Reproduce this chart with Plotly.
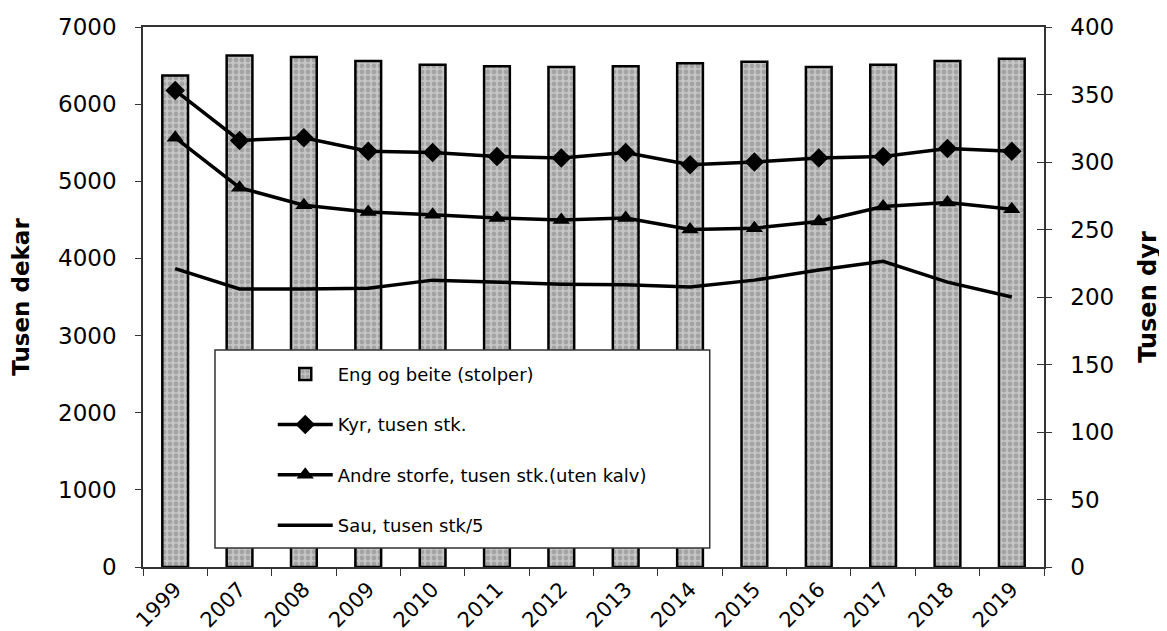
import plotly.graph_objects as go

years = ["1999", "2007", "2008", "2009", "2010", "2011", "2012", "2013",
         "2014", "2015", "2016", "2017", "2018", "2019"]
eng_beite = [6370, 6630, 6610, 6560, 6510, 6490, 6480, 6490, 6530, 6550, 6480, 6510, 6560, 6590]
kyr = [353, 316, 318, 308, 307, 304, 303, 307, 298, 300, 303, 304, 310, 308]
andre_storfe = [318, 281, 268, 263, 261, 258.5, 257, 258.5, 250, 251, 256, 267, 270, 265]
sau = [221, 206, 206, 206.5, 212.5, 211, 209.5, 209, 207.5, 212.5, 220, 226.5, 211, 200]

font_family = "DejaVu Sans, Liberation Sans, Arial, sans-serif"
axis_col = "#333333"

fig = go.Figure()
fig.add_trace(go.Bar(
    x=years, y=eng_beite, name="Eng og beite (stolper)", width=0.40,
    marker=dict(color="#b4b4b4", line=dict(color="black", width=2.5),
                pattern=dict(shape=".", fgcolor="#808080", bgcolor="#c6c6c6", size=6, solidity=0.5)),
    legendgroup="a", yaxis="y"))
fig.add_trace(go.Scatter(
    x=years, y=kyr, name="Kyr, tusen stk.", mode="lines+markers",
    line=dict(color="black", width=3.5), marker=dict(symbol="diamond", size=15, color="black"),
    legendgroup="b", yaxis="y2"))
fig.add_trace(go.Scatter(
    x=years, y=andre_storfe, name="Andre storfe, tusen stk.(uten kalv)", mode="lines+markers",
    line=dict(color="black", width=3.5), marker=dict(symbol="triangle-up", size=15, color="black"),
    legendgroup="c", yaxis="y2"))
fig.add_trace(go.Scatter(
    x=years, y=sau, name="Sau, tusen stk/5", mode="lines",
    line=dict(color="black", width=3.5),
    legendgroup="d", yaxis="y2"))
# invisible helper trace so the right axis can also carry inward ticks (cross ticks)
fig.add_trace(go.Scatter(
    x=years, y=sau, mode="lines", line=dict(width=0), opacity=0,
    showlegend=False, hoverinfo="skip", yaxis="y3"))

fig.add_shape(type="rect", xref="paper", yref="paper", x0=0.0799, x1=0.629, y0=0.035, y1=0.402,
              fillcolor="white", line=dict(color="#333333", width=1.5), layer="above")

fig.update_layout(
    width=1167, height=631,
    margin=dict(l=135, r=131, t=19, b=72),
    paper_bgcolor="white", plot_bgcolor="white",
    font=dict(family=font_family, color="black", size=21),
    showlegend=True,
    legend=dict(x=0.144, y=0.391, xanchor="left", yanchor="top", bgcolor="rgba(0,0,0,0)",
                borderwidth=0, font=dict(size=18, family=font_family), tracegroupgap=24,
                traceorder="grouped", itemwidth=55),
    xaxis=dict(type="category", range=[-0.5, len(years) - 0.5], showline=True, linecolor=axis_col,
               linewidth=1.5, mirror=True,
               ticks="outside", ticklen=7, tickcolor=axis_col, tickson="boundaries",
               tickangle=-45, tickfont=dict(size=21), showgrid=False, automargin=False),
    yaxis=dict(range=[0, 7000], dtick=1000, showline=True, linecolor=axis_col, linewidth=1.5,
               ticks="outside", ticklen=6, tickcolor=axis_col, showgrid=False, zeroline=False,
               ticklabelstandoff=14, automargin=False,
               title=dict(text="<b>Tusen dekar</b>", font=dict(size=23), standoff=26),
               tickfont=dict(size=23)),
    yaxis2=dict(range=[0, 400], dtick=50, overlaying="y", side="right", showline=True,
                linecolor=axis_col, linewidth=1.5, ticks="outside", ticklen=6, tickcolor=axis_col,
                showgrid=False, zeroline=False, ticklabelstandoff=14, automargin=False,
                title=dict(text="<b>Tusen dyr</b>", font=dict(size=24), standoff=26),
                tickfont=dict(size=23)),
    yaxis3=dict(range=[0, 400], dtick=50, overlaying="y", side="right", showline=False,
                ticks="inside", ticklen=7, tickcolor=axis_col, showticklabels=False,
                showgrid=False, zeroline=False, automargin=False),
)

fig.write_html("out.html")
